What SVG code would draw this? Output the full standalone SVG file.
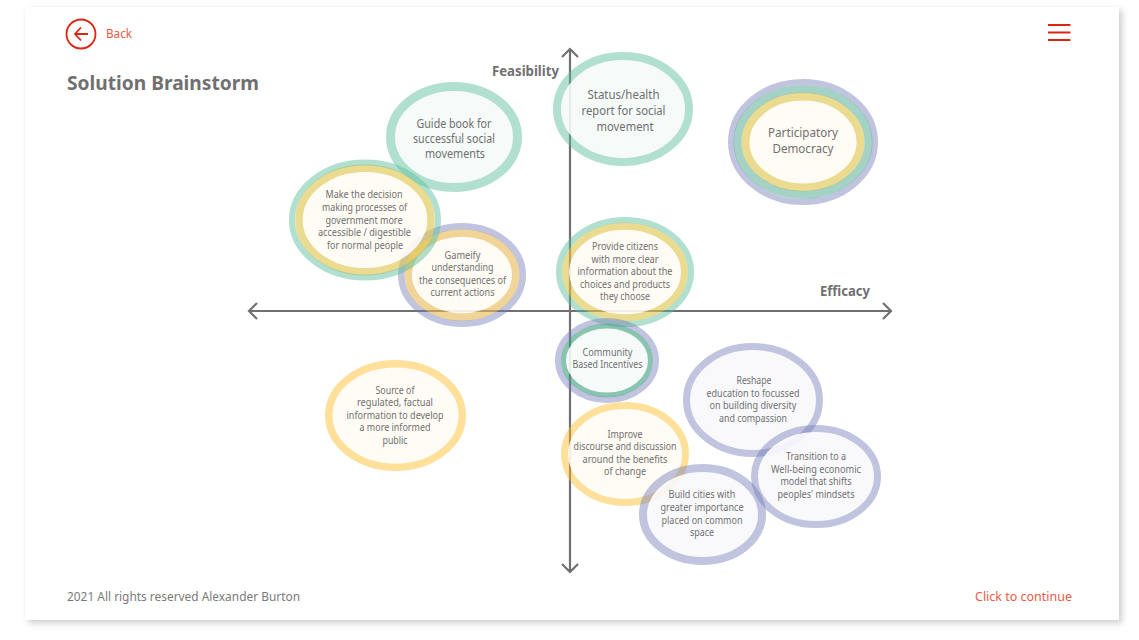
<svg xmlns="http://www.w3.org/2000/svg" width="1139" height="640" viewBox="0 0 1139 640">
<style>
text{font-family:"Noto Sans","Open Sans","Liberation Sans",sans-serif;fill:#6f6f6f}
.c{text-anchor:middle}
.s10{font-size:10.2px}.s12{font-size:12px}.s13{font-size:12.8px}
.b{font-weight:700;fill:#707070}
.r{fill:#ea5a45}
ellipse{fill:none}
.t{stroke:#5abe9b;stroke-opacity:.47}
.p{stroke:#737db9;stroke-opacity:.45}
.y{stroke:#fcbe28;stroke-opacity:.47}
.y2{stroke:#dfc54e;stroke-opacity:.62}
.y3{stroke:#e7ba58;stroke-opacity:.62}
.t2{stroke:#6cb7a2;stroke-opacity:.62}
.t3{stroke:#3fa07e;stroke-opacity:.62}
.ft{fill:#f5fbfa;fill-opacity:.9}
.fy{fill:#fffcf4;fill-opacity:.9}
.fp{fill:#f8f8fc;fill-opacity:.9}
.ax{fill:none;stroke:#707070;stroke-width:2.2}
</style>
<defs>
<filter id="sh" x="-5%" y="-5%" width="110%" height="110%"><feDropShadow dx="3" dy="3" stdDeviation="3" flood-color="#000" flood-opacity=".2"/></filter>
</defs>
<rect id="card" x="25" y="7" width="1094" height="613" fill="#fff" filter="url(#sh)"/>
<g id="back">
<circle cx="81" cy="34" r="14.5" fill="none" stroke="#dc2612" stroke-width="1.8"/>
<path d="M88 34H75M81 27.5L75 34L81 40.5" fill="none" stroke="#dc2612" stroke-width="1.8"/>
<text class="r" x="106" y="38" font-size="12.5" textLength="26" lengthAdjust="spacingAndGlyphs">Back</text>
</g>
<g id="menu" fill="none" stroke="#dc2612" stroke-width="1.8"><path d="M1048 25H1070.5M1048 32.5H1070.5M1048 40H1070.5"/></g>
<text id="title" class="b" x="67" y="90" font-size="20" textLength="192" lengthAdjust="spacingAndGlyphs">Solution Brainstorm</text>
<g id="connectors">
<path class="ax" d="M570 49V572M562 57L570 49L578 57M562 564L570 572L578 564"/>
<path class="ax" d="M249 311H891M257 303L249 311L257 319M883 303L891 311L883 319"/>
</g>
<text id="feasibility" class="b" x="492" y="76" font-size="13.5" textLength="67" lengthAdjust="spacingAndGlyphs">Feasibility</text>
<text id="efficacy" class="b" x="820" y="296" font-size="13.5" textLength="50" lengthAdjust="spacingAndGlyphs">Efficacy</text>

<g id="guide">
<ellipse class="ft" cx="454" cy="137" rx="59" ry="46"/>
<ellipse class="t" cx="454" cy="137" rx="63.5" ry="50.5" stroke-width="9"/>
<text class="c s12" x="454" y="127.5" textLength="75" lengthAdjust="spacingAndGlyphs">Guide book for</text>
<text class="c s12" x="454" y="142.5" textLength="82" lengthAdjust="spacingAndGlyphs">successful social</text>
<text class="c s12" x="455" y="157.5" textLength="60" lengthAdjust="spacingAndGlyphs">movements</text>
</g>
<g id="status">
<ellipse class="ft" cx="623" cy="109" rx="62" ry="49"/>
<ellipse class="t" cx="623" cy="109" rx="66" ry="53" stroke-width="8"/>
<text class="c s12" x="623.5" y="99" textLength="72" lengthAdjust="spacingAndGlyphs">Status/health</text>
<text class="c s12" x="623.5" y="115" textLength="84" lengthAdjust="spacingAndGlyphs">report for social</text>
<text class="c s12" x="625" y="131" textLength="57" lengthAdjust="spacingAndGlyphs">movement</text>
</g>
<g id="participatory">
<ellipse class="fy" cx="803" cy="142" rx="53.5" ry="42"/>
<ellipse class="y2" cx="803" cy="142" rx="57.5" ry="45.5" stroke-width="8"/>
<ellipse class="t2" cx="803" cy="142" rx="65.5" ry="53" stroke-width="8"/>
<ellipse class="p" cx="803" cy="142" rx="72" ry="60" stroke-width="6"/>
<text class="c s13" x="803" y="137" textLength="70" lengthAdjust="spacingAndGlyphs">Participatory</text>
<text class="c s13" x="803" y="153" textLength="61" lengthAdjust="spacingAndGlyphs">Democracy</text>
</g>
<g id="gameify">
<ellipse class="fy" cx="462" cy="275" rx="50" ry="38.5"/>
<ellipse class="y3" cx="462" cy="275" rx="53.75" ry="42" stroke-width="7.5"/>
<ellipse class="p" cx="462" cy="275" rx="60.75" ry="48.75" stroke-width="6.5"/>
<text class="c s10" x="462.5" y="258.7" textLength="36" lengthAdjust="spacingAndGlyphs">Gameify</text>
<text class="c s10" x="462.5" y="271" textLength="62" lengthAdjust="spacingAndGlyphs">understanding</text>
<text class="c s10" x="462.5" y="283.5" textLength="87" lengthAdjust="spacingAndGlyphs">the consequences of</text>
<text class="c s10" x="462.5" y="296" textLength="64" lengthAdjust="spacingAndGlyphs">current actions</text>
</g>
<g id="decision">
<ellipse class="fy" cx="365" cy="220" rx="62" ry="48.5"/>
<ellipse class="y2" cx="365" cy="220" rx="66" ry="51.75" stroke-width="7.5"/>
<ellipse class="t" cx="365" cy="220" rx="73" ry="57.5" stroke-width="6"/>
<text class="c s10" x="364" y="198" textLength="77" lengthAdjust="spacingAndGlyphs">Make the decision</text>
<text class="c s10" x="364.5" y="211" textLength="85" lengthAdjust="spacingAndGlyphs">making processes of</text>
<text class="c s10" x="364" y="223.5" textLength="77" lengthAdjust="spacingAndGlyphs">government more</text>
<text class="c s10" x="364.5" y="236" textLength="93" lengthAdjust="spacingAndGlyphs">accessible / digestible</text>
<text class="c s10" x="365" y="248.5" textLength="76" lengthAdjust="spacingAndGlyphs">for normal people</text>
</g>
<g id="provide">
<ellipse class="fy" cx="625" cy="272" rx="56" ry="42.5"/>
<ellipse class="y2" cx="625" cy="272" rx="59.5" ry="45.75" stroke-width="7"/>
<ellipse class="t" cx="625" cy="272" rx="66" ry="52" stroke-width="6"/>
<text class="c s10" x="625" y="250" textLength="66" lengthAdjust="spacingAndGlyphs">Provide citizens</text>
<text class="c s10" x="625" y="262.5" textLength="67" lengthAdjust="spacingAndGlyphs">with more clear</text>
<text class="c s10" x="625" y="275" textLength="95" lengthAdjust="spacingAndGlyphs">information about the</text>
<text class="c s10" x="625" y="287.5" textLength="90" lengthAdjust="spacingAndGlyphs">choices and products</text>
<text class="c s10" x="625" y="300" textLength="50" lengthAdjust="spacingAndGlyphs">they choose</text>
</g>
<g id="community">
<ellipse class="ft" cx="607" cy="360.5" rx="41" ry="32"/>
<ellipse class="t3" cx="607" cy="360.5" rx="43.5" ry="34.5" stroke-width="5"/>
<ellipse class="p" cx="607" cy="360.5" rx="49" ry="39.5" stroke-width="6"/>
<text class="c s10" x="607.5" y="355.7" textLength="50" lengthAdjust="spacingAndGlyphs">Community</text>
<text class="c s10" x="607.5" y="368" textLength="70" lengthAdjust="spacingAndGlyphs">Based Incentives</text>
</g>
<g id="reshape">
<ellipse class="fp" cx="753" cy="400" rx="63" ry="50"/>
<ellipse class="p" cx="753" cy="400" rx="66.5" ry="53.5" stroke-width="7"/>
<text class="c s10" x="754" y="384" textLength="35" lengthAdjust="spacingAndGlyphs">Reshape</text>
<text class="c s10" x="753" y="396.5" textLength="93" lengthAdjust="spacingAndGlyphs">education to focussed</text>
<text class="c s10" x="753" y="409" textLength="87" lengthAdjust="spacingAndGlyphs">on building diversity</text>
<text class="c s10" x="753" y="421.5" textLength="68" lengthAdjust="spacingAndGlyphs">and compassion</text>
</g>
<g id="improve">
<ellipse class="fy" cx="625" cy="454" rx="57" ry="45"/>
<ellipse class="y" cx="625" cy="454" rx="60.5" ry="48.5" stroke-width="7"/>
<text class="c s10" x="625" y="437.7" textLength="35" lengthAdjust="spacingAndGlyphs">Improve</text>
<text class="c s10" x="625" y="450" textLength="103" lengthAdjust="spacingAndGlyphs">discourse and discussion</text>
<text class="c s10" x="625" y="462.5" textLength="85" lengthAdjust="spacingAndGlyphs">around the benefits</text>
<text class="c s10" x="625" y="475" textLength="42" lengthAdjust="spacingAndGlyphs">of change</text>
</g>
<g id="transition">
<ellipse class="fp" cx="816" cy="476.5" rx="58" ry="44.5"/>
<ellipse class="p" cx="816" cy="476.5" rx="61.5" ry="48" stroke-width="7"/>
<text class="c s10" x="816" y="460" textLength="60" lengthAdjust="spacingAndGlyphs">Transition to a</text>
<text class="c s10" x="816" y="472.5" textLength="90" lengthAdjust="spacingAndGlyphs">Well-being economic</text>
<text class="c s10" x="816" y="485" textLength="71" lengthAdjust="spacingAndGlyphs">model that shifts</text>
<text class="c s10" x="816" y="497.5" textLength="77" lengthAdjust="spacingAndGlyphs">peoples' mindsets</text>
</g>
<g id="build">
<ellipse class="fp" cx="702.5" cy="514.5" rx="55.5" ry="42.5"/>
<ellipse class="p" cx="702.5" cy="514.5" rx="59.5" ry="46.5" stroke-width="8"/>
<text class="c s10" x="702" y="498" textLength="67" lengthAdjust="spacingAndGlyphs">Build cities with</text>
<text class="c s10" x="702" y="511" textLength="83" lengthAdjust="spacingAndGlyphs">greater importance</text>
<text class="c s10" x="702" y="523.5" textLength="81" lengthAdjust="spacingAndGlyphs">placed on common</text>
<text class="c s10" x="702" y="536" textLength="24" lengthAdjust="spacingAndGlyphs">space</text>
</g>
<g id="source">
<ellipse class="fy" cx="395.5" cy="415.5" rx="63" ry="48"/>
<ellipse class="y" cx="395.5" cy="415.5" rx="66.75" ry="51.75" stroke-width="7.5"/>
<text class="c s10" x="395" y="393.5" textLength="39" lengthAdjust="spacingAndGlyphs">Source of</text>
<text class="c s10" x="395" y="406" textLength="76" lengthAdjust="spacingAndGlyphs">regulated, factual</text>
<text class="c s10" x="395" y="418.5" textLength="97" lengthAdjust="spacingAndGlyphs">information to develop</text>
<text class="c s10" x="395" y="431" textLength="71" lengthAdjust="spacingAndGlyphs">a more informed</text>
<text class="c s10" x="395" y="443.5" textLength="25" lengthAdjust="spacingAndGlyphs">public</text>
</g>
<text id="copyright" x="67" y="601" font-size="13" textLength="233" lengthAdjust="spacingAndGlyphs" style="fill:#7a7a7a">2021 All rights reserved Alexander Burton</text>
<text id="continue" class="r" x="975" y="601" font-size="13" textLength="97" lengthAdjust="spacingAndGlyphs">Click to continue</text>
</svg>
